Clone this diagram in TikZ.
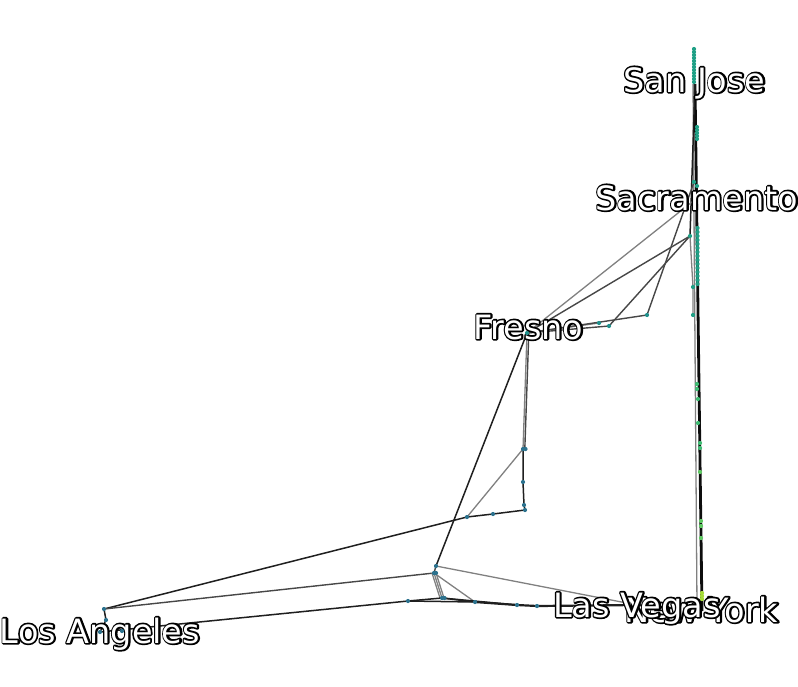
\documentclass[tikz,border=0pt]{standalone}
\usepackage{fontspec}
\setmainfont{DejaVu Sans}
\definecolor{vblue}{HTML}{2C728E}
\definecolor{vteal}{HTML}{21908C}
\definecolor{vsea}{HTML}{20A086}
\definecolor{vgreen}{HTML}{3FBC73}
\definecolor{vlime}{HTML}{5EC962}
\definecolor{vyel}{HTML}{A5DB36}
\newcommand{\halotext}[1]{\special{pdf:literal direct 1 Tr 3.4 w 1 j}#1\special{pdf:literal direct 0 Tr}}

\begin{document}
\begin{tikzpicture}[
    x=1pt, y=-1pt,
    trunk/.style={draw=black!95, line width=2.8pt},
    road/.style={draw=black!88, line width=1.5pt},
    lane/.style={draw=black!72, line width=1.4pt},
    faint/.style={draw=black!50, line width=1.3pt},
    dot/.style={circle, inner sep=0pt, minimum size=4.2pt, fill=#1},
    city/.style={anchor=base, inner sep=0pt, text=white, font=\fontsize{33.5}{33.5}\selectfont},
    halo/.style={city, text=black}
]
\useasboundingbox (0,0) rectangle (798,686);

\coordinate (sanjose) at (695,84);
\coordinate (sacramento) at (697,198);
\coordinate (fresno) at (527,333);
\coordinate (losangeles) at (100,632);
\coordinate (lasvegas) at (637,605);
\coordinate (newyork) at (702,611);
\coordinate (nyw) at (697,606);
\coordinate (sac) at (690,236);
\coordinate (sacA) at (694,182);
\coordinate (sacB) at (697,186);
\coordinate (sacC) at (693,287);
\coordinate (sacD) at (693,315);
\coordinate (f1) at (599,323);
\coordinate (f2) at (609,326);
\coordinate (f3) at (647,315);
\coordinate (m1) at (523,449);
\coordinate (m2) at (523,482);
\coordinate (m3) at (524,505);
\coordinate (m4) at (525,510);
\coordinate (w1) at (493,514);
\coordinate (w2) at (467,517);
\coordinate (c1) at (436,566);
\coordinate (c2) at (434,573);
\coordinate (la1) at (104,609);
\coordinate (la2) at (106,620);
\coordinate (la3) at (122,631);
\coordinate (b1) at (408,601);
\coordinate (b2) at (442,598);
\coordinate (b3) at (475,602);
\coordinate (b4) at (517,605);
\coordinate (b5) at (537,606);

\draw[faint] ([xshift=-2pt]sanjose) -- (nyw);
\draw[trunk] (sanjose) -- (newyork);
\draw[road] (sanjose) -- (sac);
\draw[faint] (sac) -- (sacC) -- (sacD);
\draw[faint] (fresno) -- (sacramento);
\draw[lane] (fresno) -- (sac);
\draw[lane] (f2) -- (sac);
\draw[lane] (f3) -- (sacA);
\draw[faint] (fresno) -- (f1);
\draw[lane] (fresno) -- (f2);
\draw[lane] (fresno) -- (f3);
\draw[faint] (fresno) -- (m1);
\draw[lane] ([xshift=1.8pt]fresno) -- ([xshift=1.8pt]m1);
\draw[road] (m1) -- (m2) -- (m3) -- (m4) -- (w1) -- (w2) -- (la1);
\draw[faint] (m1) -- (w2);
\draw[road] (fresno) -- (c1);
\draw[lane] (c1) -- (c2) -- (la1);
\draw[faint] (c1) -- (lasvegas);
\draw[road] (la1) -- (la2) -- (losangeles);
\draw[faint] (c2) -- (b2);
\draw[faint] ([xshift=-2pt]c2) -- ([xshift=-2pt]b2);
\draw[faint] ([xshift=2pt]c2) -- ([xshift=2pt]b2);
\draw[faint] (c2) -- (b3);
\draw[road] (losangeles) -- (b1);
\draw[road] (b1) -- (b2) -- (b3);
\draw[road] (b1) -- (b3);
\draw[road] (b2) -- (b4);
\draw[road, line width=2.2pt] (b3) -- (b4) -- (b5) -- (lasvegas) -- (newyork);

\node[halo] (sanjoseH) at (694.5,92) {\halotext{San Jose}};
\node[city] (sanjoseL) at (694.5,92) {San Jose};
\node[halo] (sacramentoH) at (697,210) {\halotext{Sacramento}};
\node[city] (sacramentoL) at (697,210) {Sacramento};
\node[halo] (fresnoH) at (528.5,339) {\halotext{Fresno}};
\node[city] (fresnoL) at (528.5,339) {Fresno};
\node[halo] (losangelesH) at (100,643) {\halotext{Los Angeles}};
\node[city] (losangelesL) at (100,643) {Los Angeles};
\node[halo] (newyorkH) at (701.5,622) {\halotext{New York}};
\node[city] (newyorkL) at (701.5,622) {New York};
\node[halo] (lasvegasH) at (637,617) {\halotext{Las Vegas}};
\node[city] (lasvegasL) at (637,617) {Las Vegas};

\foreach \n in {la1,la2,la3,losangeles,w1,w2,m1,m2,m3,m4,c1,c2,b1,b2,b3,b4,b5}
    \node[dot=vblue] (d-\n) at (\n) {};
\node[dot=vblue] (d-m1b) at ([xshift=2.5pt]m1) {};
\node[dot=vblue] (d-b2b) at ([xshift=2.5pt]b2) {};
\node[dot=vblue] (d-c2b) at ([xshift=2pt]c2) {};
\foreach \n in {fresno,f1,f2,f3}
    \node[dot=vteal] (d-\n) at (\n) {};
\foreach \n in {sac,sacA,sacB,sacC,sacD}
    \node[dot=vsea] (d-\n) at (\n) {};
\foreach \y [count=\i] in {49,52,...,83}
    \node[dot=vsea] (top\i) at (694,\y) {};
\foreach \y [count=\i] in {127,130,...,140}
    \node[dot=vsea] (mid\i) at (697,\y) {};
\foreach \y [count=\i] in {228,232,...,284}
    \node[dot=vsea] (col\i) at (697.5,\y) {};
\foreach \x/\y [count=\i] in {697/384,697/389,698/399,698/423,700/443,700/448}
    \node[dot=vgreen] (low\i) at (\x,\y) {};
\foreach \x/\y [count=\i] in {700/472,701/521,701/526,701/538}
    \node[dot=vlime] (bot\i) at (\x,\y) {};
\foreach \y [count=\i] in {593,596,599}
    \node[dot=vyel] (end\i) at (702,\y) {};
\end{tikzpicture}
\end{document}
